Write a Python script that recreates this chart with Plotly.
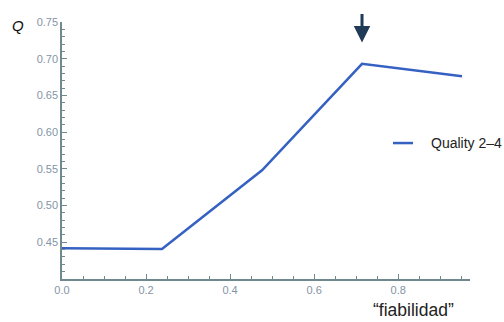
import plotly.graph_objects as go

fiabilidad = [0.0, 0.238, 0.476, 0.714, 0.952]
quality_2_4 = [0.442, 0.441, 0.548, 0.693, 0.676]
series_name = "Quality 2\u20134"
x_ticks = [0.0, 0.2, 0.4, 0.6, 0.8]
y_ticks = [0.45, 0.50, 0.55, 0.60, 0.65, 0.70, 0.75]

axis_col = "#6f8a8f"
tick_col = "#8494a5"
line_col = "#3561c2"

fig = go.Figure()
fig.add_trace(go.Scatter(
    x=fiabilidad, y=quality_2_4, mode="lines", name=series_name,
    line=dict(color=line_col, width=2.5), showlegend=False,
))

# legend key (drawn manually so it is not clipped at the right edge)
fig.add_shape(type="line", xref="paper", yref="paper",
              x0=0.8113, x1=0.8603, y0=0.529, y1=0.529,
              line=dict(color=line_col, width=2.5))

fig.update_layout(
    width=504, height=322,
    margin=dict(l=62, r=34, t=22, b=43, autoexpand=False),
    paper_bgcolor="white", plot_bgcolor="white",
    font=dict(family="Liberation Sans, Arial, sans-serif"),
    xaxis=dict(range=[0, 0.971], tickvals=x_ticks,
               ticktext=[f"{v:.1f}" for v in x_ticks],
               showgrid=False, zeroline=False, showline=True,
               linecolor=axis_col, linewidth=1.5,
               ticks="inside", ticklen=5, tickcolor=axis_col,
               tickfont=dict(size=11, color=tick_col),
               minor=dict(ticks="inside", dtick=0.05, ticklen=3, tickcolor=axis_col)),
    yaxis=dict(range=[0.40, 0.75], tickvals=y_ticks,
               ticktext=[f"{v:.2f}" for v in y_ticks],
               showgrid=False, zeroline=False, showline=True,
               linecolor=axis_col, linewidth=1.5,
               ticks="inside", ticklen=5, tickcolor=axis_col,
               tickfont=dict(size=11, color=tick_col),
               minor=dict(ticks="inside", dtick=0.01, ticklen=3, tickcolor=axis_col)),
    annotations=[
        dict(x=0.714, y=0.722, xref="x", yref="y", ax=0, ay=-30,
             showarrow=True, arrowhead=2, arrowsize=1.1, arrowwidth=3,
             arrowcolor="#1f3b57", text=""),
        dict(x=-0.108, y=0.985, xref="paper", yref="paper", text="<i>Q</i>",
             showarrow=False, xanchor="center", yanchor="middle",
             font=dict(size=15, color="#111111")),
        dict(x=0.862, y=-0.075, xref="paper", yref="paper",
             text="\u201cfiabilidad\u201d", showarrow=False,
             xanchor="center", yanchor="top",
             font=dict(size=17.5, color="#222222")),
        dict(x=0.9044, y=0.529, xref="paper", yref="paper",
             text=series_name, showarrow=False,
             xanchor="left", yanchor="middle", xshift=-2,
             font=dict(size=14, color="#222222")),
    ],
)

fig.write_html("out.html", config={"displayModeBar": False},
               post_script="document.body.style.margin='0';")
